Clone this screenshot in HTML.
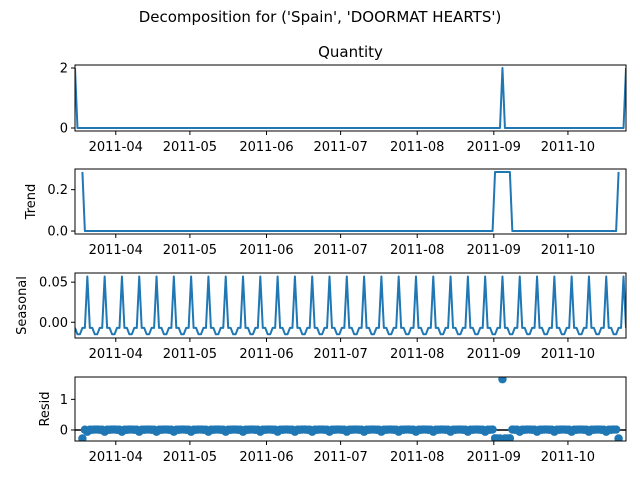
<!DOCTYPE html>
<html><head><meta charset="utf-8"><style>
body{margin:0;background:#fff}
svg text{font-family:"DejaVu Sans","Liberation Sans",sans-serif;fill:#000}
</style></head><body>
<svg id="fig" width="640" height="480" viewBox="0 0 640 480" xmlns="http://www.w3.org/2000/svg">
<rect width="640" height="480" fill="#fff"/>
<text x="320" y="22" font-size="15" text-anchor="middle">Decomposition for ('Spain', 'DOORMAT HEARTS')</text>
<g id="plots"></g>
</svg>
<script>
const nPoints = 224;
const observedSpikeIdx = [0, 173, 223];
const observedSpikeVal = [2, 2, 2];
const seasonalPattern = [-0.007, -0.015, -0.015, -0.007, -0.007, 0.057, -0.007];
const monthTicks = ['2011-04','2011-05','2011-06','2011-07','2011-08','2011-09','2011-10'];
const monthTickIdx = [16.5, 46.5, 77.5, 107.5, 138.5, 169.5, 199.5];
const period = 7;

const observed = new Array(nPoints).fill(0);
observedSpikeIdx.forEach((k,j)=>observed[k]=observedSpikeVal[j]);
const trend = observed.map((v,i)=>{
  if(i<3||i>nPoints-4) return null;
  let s=0; for(let k=i-3;k<=i+3;k++) s+=observed[k]; return s/period;
});
const seasonal = observed.map((v,i)=>seasonalPattern[i%period]);
const resid = observed.map((v,i)=>trend[i]===null?null:v-trend[i]-seasonal[i]);

const NS='http://www.w3.org/2000/svg';
const root=document.getElementById('plots');
const X0=75,X1=626;
const xs=i=>X0+(X1-X0)*i/(nPoints-1);
function mk(tag,attrs,parent){const e=document.createElementNS(NS,tag);for(const k in attrs)e.setAttribute(k,attrs[k]);(parent||root).appendChild(e);return e;}

const panels=[
 {name:'observed',data:observed,top:65,bot:131,ymin:-0.1,ymax:2.1,ticks:[0,2],fmt:v=>String(v),label:null,title:'Quantity'},
 {name:'trend',data:trend,top:169,bot:234,ymin:-0.0143,ymax:0.3,ticks:[0,0.2],fmt:v=>v.toFixed(1),label:'Trend'},
 {name:'seasonal',data:seasonal,top:273,bot:338,ymin:-0.0196,ymax:0.0614,ticks:[0,0.05],fmt:v=>v.toFixed(2),label:'Seasonal'},
 {name:'resid',data:resid,top:377,bot:441,ymin:-0.36,ymax:1.73,ticks:[0,1],fmt:v=>String(v),label:'Resid',scatter:true}
];
panels.forEach(p=>{
  const g=mk('g',{});
  
  
  const ys=v=>p.bot-(v-p.ymin)/(p.ymax-p.ymin)*(p.bot-p.top);
  const cid='clip-'+p.name;
  const cp=mk('clipPath',{id:cid},g);mk('rect',{x:X0,y:p.top,width:X1-X0,height:p.bot-p.top},cp);
  if(p.scatter){
    const zl=mk('line',{x1:X0,x2:X1,y1:ys(0),y2:ys(0),stroke:'#000','stroke-width':1.5,'clip-path':`url(#${cid})`},g);
    
    
    p.data.forEach((v,i)=>{ if(v===null)return;
      const c=mk('circle',{cx:xs(i),cy:ys(v),r:4.2,fill:'#1f77b4','clip-path':`url(#${cid})`},g);
      
      
    });
  } else {
    let d='',pen=false;
    p.data.forEach((v,i)=>{ if(v===null){pen=false;return;} d+=(pen?'L':'M')+xs(i).toFixed(2)+' '+ys(v).toFixed(2);pen=true;});
    const l=mk('path',{d:d,fill:'none',stroke:'#1f77b4','stroke-width':2,'stroke-linejoin':'round','clip-path':`url(#${cid})`},g);
    
    
  }
  const fr=mk('rect',{x:X0,y:p.top,width:X1-X0,height:p.bot-p.top,fill:'none',stroke:'#000','stroke-width':1},g);
  
  
  p.ticks.forEach(t=>{
    const y=ys(t);
    mk('line',{x1:X0-4,x2:X0,y1:y,y2:y,stroke:'#000','stroke-width':1},g);
    const tx=mk('text',{x:X0-7,y:y+4.5,'font-size':13,'text-anchor':'end'},g);
    tx.textContent=p.fmt(t);
    
    
  });
  monthTicks.forEach((m,j)=>{
    const x=xs(monthTickIdx[j]);
    mk('line',{x1:x,x2:x,y1:p.bot,y2:p.bot+4,stroke:'#000','stroke-width':1},g);
    const tx=mk('text',{x:x,y:p.bot+20,'font-size':13,'text-anchor':'middle'},g);
    tx.textContent=m;
    
    
  });
  if(p.label){
    const cy=(p.top+p.bot)/2;
    const lx=p.name==='trend'?35:(p.name==='seasonal'?26:49);
    const tx=mk('text',{x:lx,y:cy,'font-size':13,'text-anchor':'middle',transform:`rotate(-90 ${lx} ${cy})`},g);
    tx.textContent=p.label;
    
    
  }
  if(p.title){
    const tx=mk('text',{x:(X0+X1)/2,y:p.top-8,'font-size':15,'text-anchor':'middle'},g);
    tx.textContent=p.title;
    
    
  }
});
</script>
</body></html>
